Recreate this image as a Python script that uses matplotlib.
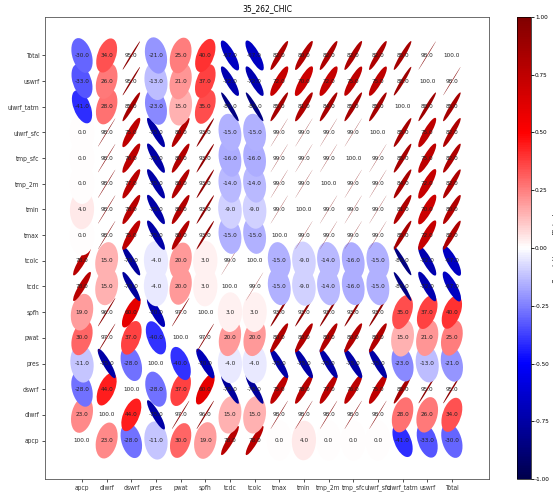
import numpy as np
import matplotlib
matplotlib.use("Agg")
import matplotlib.pyplot as plt
from matplotlib.patches import Ellipse
from matplotlib.transforms import Affine2D
from matplotlib.colors import Normalize
from matplotlib.cm import ScalarMappable

plt.rcParams['font.family'] = ['DejaVu Sans']
plt.rcParams['font.stretch'] = 'condensed'

labels = ["apcp", "dlwrf", "dswrf", "pres", "pwat", "spfh", "tcdc", "tcolc",
          "tmax", "tmin", "tmp_2m", "tmp_sfc", "ulwrf_sfc", "ulwrf_tatm",
          "uswrf", "Total"]

# lower triangle of the correlation matrix, in percent (row i vs columns 0..i)
corr_lower = [
    [100],
    [23, 100],
    [-28, 44, 100],
    [-11, -75, -28, 100],
    [30, 97, 37, -40, 100],
    [19, 96, 60, -70, 97, 100],
    [78, 15, -78, -4, 20, 3, 100],
    [78, 15, -78, -4, 20, 3, 99, 100],
    [0, 98, 75, -75, 80, 93, -15, -15, 100],
    [4, 98, 78, -75, 80, 93, -9, -9, 99, 100],
    [0, 98, 77, -75, 80, 93, -14, -14, 99, 99, 100],
    [0, 98, 76, -75, 80, 93, -16, -16, 99, 99, 99, 100],
    [0, 98, 75, -75, 80, 93, -15, -15, 99, 99, 99, 99, 100],
    [-41, 28, 85, -23, 15, 35, -85, -85, 85, 81, 84, 85, 85, 100],
    [-33, 26, 95, -13, 21, 37, -72, -72, 72, 70, 72, 75, 75, 88, 100],
    [-30, 34, 95, -21, 25, 40, -67, -67, 82, 80, 82, 82, 82, 85, 98, 100],
]
title = "35_262_CHIC"

n = len(labels)
M = np.zeros((n, n))
for i, row in enumerate(corr_lower):
    for j, v in enumerate(row):
        M[i, j] = v
        M[j, i] = v
R = M / 100.0

fig = plt.figure(figsize=(5.53, 4.95), dpi=100)
ax = fig.add_axes([0.0814, 0.0323, 0.8026, 0.9334])
cax = fig.add_axes([0.935, 0.0323, 0.025, 0.9334])

cmap = plt.get_cmap("seismic")
norm = Normalize(vmin=-1, vmax=1)
stretch = 1.57  # ellipses are taller than the row spacing

for i in range(n):
    for j in range(n):
        r = R[i, j]
        e = Ellipse((0, 0), width=1, height=1 - abs(r), angle=45 * np.sign(r),
                    facecolor=cmap(norm(r)), edgecolor="none")
        e.set_transform(Affine2D().scale(1, stretch).translate(j, i) + ax.transData)
        ax.add_patch(e)
for i in range(n):
    for j in range(n):
        ax.text(j, i, f"{M[i, j]:.1f}", ha="center", va="center",
                fontsize=4.6, color="#222222")

ax.set_xlim(-1.5, n + 0.5)
ax.set_ylim(-1.5, n + 0.5)
ax.set_xticks(range(n))
ax.set_xticklabels(labels, fontsize=4.8)
ax.set_yticks(range(n))
ax.set_yticklabels(labels, fontsize=4.8)
ax.tick_params(length=2, width=0.6, pad=2, colors="#333333")
for s in ax.spines.values():
    s.set_linewidth(0.6)
    s.set_color("#555555")
ax.set_title(title, fontsize=6, pad=4)

sm = ScalarMappable(norm=norm, cmap=cmap)
cb = fig.colorbar(sm, cax=cax)
ticks = [-1, -0.75, -0.5, -0.25, 0, 0.25, 0.5, 0.75, 1]
cb.set_ticks(ticks)
cb.ax.set_yticklabels([f"{t:.2f}" for t in ticks])
cb.ax.tick_params(labelsize=4.6, length=2, width=0.6, pad=1)
cb.outline.set_linewidth(0.5)
cb.set_label("Correlation coefficient", fontsize=5, labelpad=2)

fig.savefig("out.png", dpi=100)
